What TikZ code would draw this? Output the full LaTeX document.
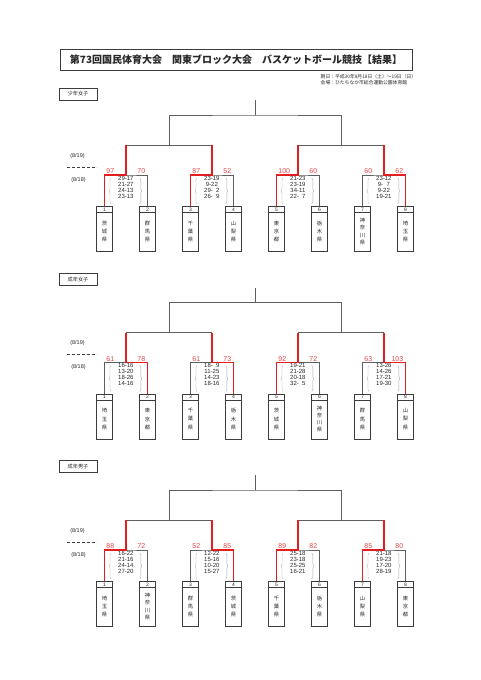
\documentclass[tikz,border=0pt]{standalone}
\usepackage{fontspec}
\setmainfont{Liberation Sans}
\newfontfamily\cjk{Noto Sans CJK JP}
\usetikzlibrary{decorations.pathreplacing}
\definecolor{lgray}{RGB}{95,95,95}
\definecolor{rred}{RGB}{228,30,30}
\definecolor{sred}{RGB}{232,70,70}
\definecolor{boxc}{RGB}{60,60,60}
\definecolor{txt}{RGB}{40,40,40}
\definecolor{brc}{RGB}{175,175,175}
\newcommand\dsp{\hphantom{0}}
\tikzset{
  gline/.style={draw=lgray, line width=0.8pt},
  rline/.style={draw=rred, line width=1.5pt},
  teambox/.style={draw=boxc, fill=white, line width=0.8pt, minimum width=16.6pt, minimum height=45pt, inner sep=0pt, anchor=north},
  numtext/.style={font=\fontsize{5}{6}\selectfont, text=txt, inner sep=0pt},
  name3/.style={font=\cjk\fontsize{5.3}{8.3}\selectfont, text=txt, align=center, inner sep=0pt},
  name4/.style={font=\cjk\fontsize{5.3}{7.3}\selectfont, text=txt, align=center, inner sep=0pt},
  score/.style={font=\fontsize{7}{8}\selectfont, text=sred, inner sep=0.6pt},
  qtext/.style={font=\fontsize{6}{6}\selectfont, text=txt, align=center, inner sep=0pt, anchor=north},
  qbrace/.style={draw=brc, line width=0.4pt, decorate, decoration={brace, amplitude=2pt}},
  seclabel/.style={draw=boxc, line width=0.9pt, minimum width=38pt, minimum height=12pt, inner sep=0pt, font=\cjk\fontsize{5.2}{6}\selectfont, text=txt},
  daylab/.style={font=\fontsize{5.5}{6}\selectfont, text=txt, inner sep=0pt},
  dashline/.style={draw=boxc, line width=0.9pt, dash pattern=on 3.3pt off 1.7pt},
}
\newcommand\drawframe[2]{%
  \foreach \i in {1,...,8} {
    \node[teambox] (#1-b\i) at ({104.4+43*(\i-1)}, #2+31) {};
    \draw[draw=boxc, line width=0.6pt] ([yshift=-6.5pt]#1-b\i.north west) -- ([yshift=-6.5pt]#1-b\i.north east);
    \node[numtext] (#1-n\i) at ([yshift=-3.4pt]#1-b\i.north) {\i};
  }
  \foreach \j in {1,...,4} {
    \coordinate (#1-m\j) at ({125.9+86*(\j-1)}, #2);
    \coordinate (#1-u\j) at ({125.9+86*(\j-1)}, #2-30);
  }
  \coordinate (#1-q1) at (168.9, #2-30);
  \coordinate (#1-q2) at (340.9, #2-30);
  \coordinate (#1-f) at (254.9, #2-60);
  \coordinate (#1-top) at (254.9, #2-75);
  \draw[gline] (#1-u1) -- (#1-u2);
  \draw[gline] (#1-u3) -- (#1-u4);
  \draw[gline] (#1-q1) |- (#1-f) -| (#1-q2);
  \draw[gline] (#1-f) -- (#1-top);
  \coordinate (#1-da) at (66.7, #2-8);
  \coordinate (#1-db) at (96.7, #2-8);
  \draw[dashline] (#1-da) -- (#1-db);
  \node[daylab] (#1-d19) at (77.5, #2-19) {(8/19)};
  \node[daylab] (#1-d18) at (78.5, #2+5) {(8/18)};
}
% #1 prefix, #2 match, #3 M, #4 left score, #5 right score, #6 quarters, #7 winner
\newcommand\matchres[7]{%
  \pgfmathtruncatemacro\L{2*#2-1}%
  \pgfmathtruncatemacro\R{2*#2}%
  \pgfmathsetmacro\xl{104.4+43*(2*#2-2)}%
  \draw[gline] (#1-b\L.north) |- (#1-m#2) -| (#1-b\R.north);
  \draw[rline] (#1-b#7.north) |- (#1-m#2) -- (#1-u#2);
  \node[score, anchor=south west] (#1-sl#2) at ({\xl+1.2}, {#3-0.3}) {#4};
  \node[score, anchor=south east] (#1-sr#2) at ({\xl+43-1.4}, {#3-0.3}) {#5};
  \node[qtext] (#1-qt#2) at ({\xl+21.5}, {#3+1}) {#6};
  \draw[qbrace] ({\xl+6.6}, {#3+29}) -- ({\xl+6.6}, {#3+3});
  \draw[qbrace] ({\xl+35.4}, {#3+3}) -- ({\xl+35.4}, {#3+29});
}
\begin{document}
\begin{tikzpicture}[x=1pt,y=-1pt]
\useasboundingbox[fill=white] (0,0) rectangle (481,680);
\node[draw=boxc, line width=1pt, minimum width=352pt, minimum height=21pt, inner sep=0pt, font=\cjk\bfseries\fontsize{10}{12}\selectfont, text=txt] (title) at (236,59.5) {第73回国民体育大会　関東ブロック大会　バスケットボール競技【結果】};
\node[font=\cjk\fontsize{4.8}{6}\selectfont, text=txt, align=left, anchor=north west, inner sep=0pt] (hdr) at (320.5,74.3) {期日：平成30年8月18日（土）～19日（日）\\会場：ひたちなか市総合運動公園体育館};

% ---------- Section 1 ----------
\node[seclabel] (lab1) at (78,94) {少年女子};
\drawframe{a}{175}
\foreach \i/\n/\s in {1/{茨\\城\\県}/name3, 2/{群\\馬\\県}/name3, 3/{千\\葉\\県}/name3, 4/{山\\梨\\県}/name3, 5/{東\\京\\都}/name3, 6/{栃\\木\\県}/name3, 7/{神\\奈\\川\\県}/name4, 8/{埼\\玉\\県}/name3}
  \node[\s] (a-name\i) at ([yshift=-25.5pt]a-b\i.north) {\n};
\matchres{a}{1}{175}{97}{70}{29-17\\21-27\\24-13\\23-13}{1}
\matchres{a}{2}{175}{87}{52}{23-19\\9-22\\29-\dsp2\\26-\dsp9}{3}
\matchres{a}{3}{175}{100}{60}{21-23\\23-19\\34-11\\22-\dsp7}{5}
\matchres{a}{4}{175}{60}{62}{23-12\\9-\dsp7\\9-22\\19-21}{8}

% ---------- Section 2 ----------
\node[seclabel] (lab2) at (78,279.5) {成年女子};
\drawframe{b}{362.5}
\foreach \i/\n/\s in {1/{埼\\玉\\県}/name3, 2/{東\\京\\都}/name3, 3/{千\\葉\\県}/name3, 4/{栃\\木\\県}/name3, 5/{茨\\城\\県}/name3, 6/{神\\奈\\川\\県}/name4, 7/{群\\馬\\県}/name3, 8/{山\\梨\\県}/name3}
  \node[\s] (b-name\i) at ([yshift=-25.5pt]b-b\i.north) {\n};
\matchres{b}{1}{362.5}{61}{78}{16-16\\13-20\\18-26\\14-16}{2}
\matchres{b}{2}{362.5}{61}{73}{18-\dsp9\\11-25\\14-23\\18-16}{4}
\matchres{b}{3}{362.5}{92}{72}{19-21\\21-28\\20-18\\32-\dsp5}{5}
\matchres{b}{4}{362.5}{63}{103}{13-26\\14-26\\17-21\\19-30}{8}

% ---------- Section 3 ----------
\node[seclabel] (lab3) at (78,466.5) {成年男子};
\drawframe{c}{550}
\foreach \i/\n/\s in {1/{埼\\玉\\県}/name3, 2/{神\\奈\\川\\県}/name4, 3/{群\\馬\\県}/name3, 4/{茨\\城\\県}/name3, 5/{千\\葉\\県}/name3, 6/{栃\\木\\県}/name3, 7/{山\\梨\\県}/name3, 8/{東\\京\\都}/name3}
  \node[\s] (c-name\i) at ([yshift=-25.5pt]c-b\i.north) {\n};
\matchres{c}{1}{550}{88}{72}{16-22\\21-16\\24-14\\27-20}{1}
\matchres{c}{2}{550}{52}{85}{12-22\\15-16\\10-20\\15-27}{4}
\matchres{c}{3}{550}{89}{82}{25-18\\23-18\\25-25\\16-21}{5}
\matchres{c}{4}{550}{85}{80}{21-18\\19-23\\17-20\\28-19}{7}
\end{tikzpicture}
\end{document}
